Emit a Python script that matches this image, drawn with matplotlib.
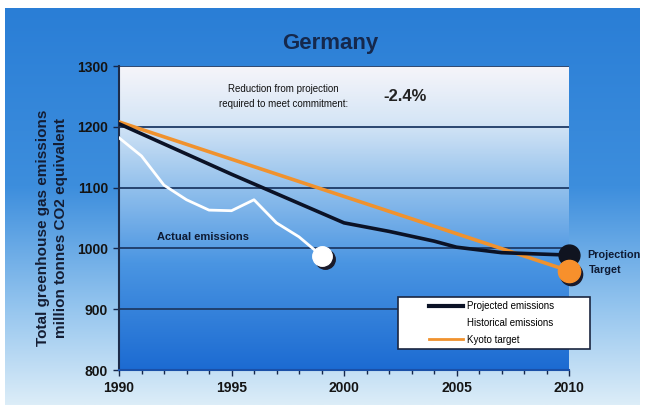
import numpy as np
import matplotlib
matplotlib.use("Agg")
import matplotlib.pyplot as plt
from matplotlib.colors import LinearSegmentedColormap
from matplotlib.legend_handler import HandlerLine2D

# data
hist_years = [1990, 1991, 1992, 1993, 1994, 1995, 1996, 1997, 1998, 1999]
hist_values = [1182, 1152, 1104, 1080, 1063, 1062, 1080, 1042, 1019, 988]

proj_years = [1990, 1995, 2000, 2002, 2004, 2005, 2007, 2010]
proj_values = [1205, 1122, 1042, 1028, 1012, 1002, 993, 989]

kyoto_years = [1990, 2010]
kyoto_values = [1208, 963]

title = "Germany"
ylabel = "Total greenhouse gas emissions\nmillion tonnes CO2 equivalent"
note = "Reduction from projection\nrequired to meet commitment:"
note_value = "-2.4%"
legend_labels = ["Projected emissions", "Historical emissions", "Kyoto target"]

sans = ["Liberation Sans", "DejaVu Sans"]
navy = "#14264a"
plt.rcParams["font.family"] = sans


class RightLine(HandlerLine2D):
    """legend line drawn only in the right half of the handle box"""

    def get_xdata(self, legend, xdescent, ydescent, width, height, fontsize):
        x0 = -xdescent + width * 0.45
        x1 = -xdescent + width
        return [x0, x1], [x0, x1]


fig = plt.figure(figsize=(6.47, 4.05), dpi=100)
fig.patch.set_facecolor("white")

# background gradient for the slide
bg = fig.add_axes([0, 0, 1, 1], zorder=0)
bg_cmap = LinearSegmentedColormap.from_list(
    "bg", [(0, "#2a7ed6"), (0.45, "#3d8edd"), (0.75, "#93c4ee"), (1.0, "#dcedf8")])
grad = np.linspace(0, 1, 256).reshape(-1, 1)
bg.imshow(grad, cmap=bg_cmap, aspect="auto", extent=[5/647, 640/647, 0, 1-8/405])
bg.set_xlim(0, 1)
bg.set_ylim(0, 1)
bg.axis("off")

ax = fig.add_axes([119/647, 1-370/405, 450/647, 304/405], zorder=1)
ax.set_facecolor("none")
plot_cmap = LinearSegmentedColormap.from_list(
    "plot", [(0, "#f6f5fa"), (0.18, "#d6e6f6"), (0.4, "#92c0ec"),
             (0.65, "#4a95e2"), (1.0, "#1c6bd2")])
ax.imshow(grad, cmap=plot_cmap, aspect="auto", extent=[1990, 2010, 800, 1300],
          zorder=0)

for v in [900, 1000, 1100, 1200, 1300]:
    ax.axhline(v, color="#1d3a66", lw=1.3, zorder=1)

ax.plot(kyoto_years, kyoto_values, color="#f0922e", lw=2.6, zorder=3,
        solid_capstyle="round")
ax.plot(proj_years, proj_values, color="#0b1226", lw=2.6, zorder=4,
        solid_capstyle="round")
ax.plot(hist_years, hist_values, color="white", lw=2.0, zorder=5)

# end point dots
ax.plot(hist_years[-1] + 0.15, hist_values[-1] - 6, "o", ms=14, color="#1a1a2a",
        zorder=5, clip_on=False)
ax.plot(hist_years[-1], hist_values[-1], "o", ms=14, color="white", zorder=6,
        clip_on=False)
ax.plot(proj_years[-1], proj_values[-1], "o", ms=15, color="#101420", zorder=6,
        clip_on=False)
ax.plot(kyoto_years[-1] + 0.1, kyoto_values[-1] - 5, "o", ms=16, color="#1a1a2a",
        zorder=6, clip_on=False)
ax.plot(kyoto_years[-1], kyoto_values[-1], "o", ms=16, color="#f7902c",
        zorder=7, clip_on=False)

ax.set_xlim(1990, 2010)
ax.set_ylim(800, 1300)
ax.set_xticks([1990, 1995, 2000, 2005, 2010])
ax.set_xticks(range(1990, 2011), minor=True)
ax.set_yticks([800, 900, 1000, 1100, 1200, 1300])
ax.tick_params(axis="both", which="major", length=4, width=1, color=navy,
               labelsize=10, labelcolor="#141414", pad=4)
ax.tick_params(axis="x", which="minor", length=3, width=1, color=navy)
for lab in ax.get_xticklabels() + ax.get_yticklabels():
    lab.set_fontweight("bold")

for s in ["top", "right"]:
    ax.spines[s].set_visible(False)
ax.spines["left"].set_color("#1d2c4a")
ax.spines["left"].set_linewidth(1.5)
ax.spines["bottom"].set_color("#1a50a8")
ax.spines["bottom"].set_linewidth(1.5)

fig.text(330/647, 1-44/405, title, ha="center", va="center", fontsize=16,
         fontweight="bold", color="#15284c")
fig.text(52/647, 1-228/405, ylabel, ha="center", va="center", rotation=90,
         fontsize=11, fontweight="bold", color="#141d33", linespacing=1.3)

ax.text(1997.3, 1250, note, ha="center", va="center", fontsize=7,
        color="#111111", linespacing=1.6)
ax.text(2002.7, 1250, note_value, ha="center", va="center", fontsize=12,
        fontweight="bold", color="#222222")
ax.text(1991.7, 1019, "Actual emissions", ha="left", va="center", fontsize=8,
        fontweight="bold", color="#0e1a33")
ax.text(2010.8, 989, "Projection", ha="left", va="center", fontsize=7.8,
        fontweight="bold", color="#0e1a33", clip_on=False)
ax.text(2010.9, 965, "Target", ha="left", va="center", fontsize=7.8,
        fontweight="bold", color="#0e1a33", clip_on=False)

# legend
h1, = ax.plot([], [], color="#0b1226", lw=3)
h2, = ax.plot([], [], color="white", lw=3)
h3, = ax.plot([], [], color="#f0922e", lw=2)
leg = fig.legend([h1, h2, h3], legend_labels,
                 loc="center", mode="expand",
                 bbox_to_anchor=(398/647, 1-348/405, 192/647, 50/405),
                 prop={"size": 7}, frameon=True, framealpha=1,
                 fancybox=False, shadow=False, handlelength=6.2,
                 handletextpad=0.4, borderpad=0.45, labelspacing=0.7,
                 borderaxespad=0,
                 handler_map={h1: RightLine(), h2: RightLine(), h3: RightLine()})
leg.get_frame().set_edgecolor("#1b2640")
leg.get_frame().set_linewidth(1.2)
leg.get_frame().set_facecolor("white")
leg.set_zorder(10)

fig.savefig("out.png", dpi=100)
